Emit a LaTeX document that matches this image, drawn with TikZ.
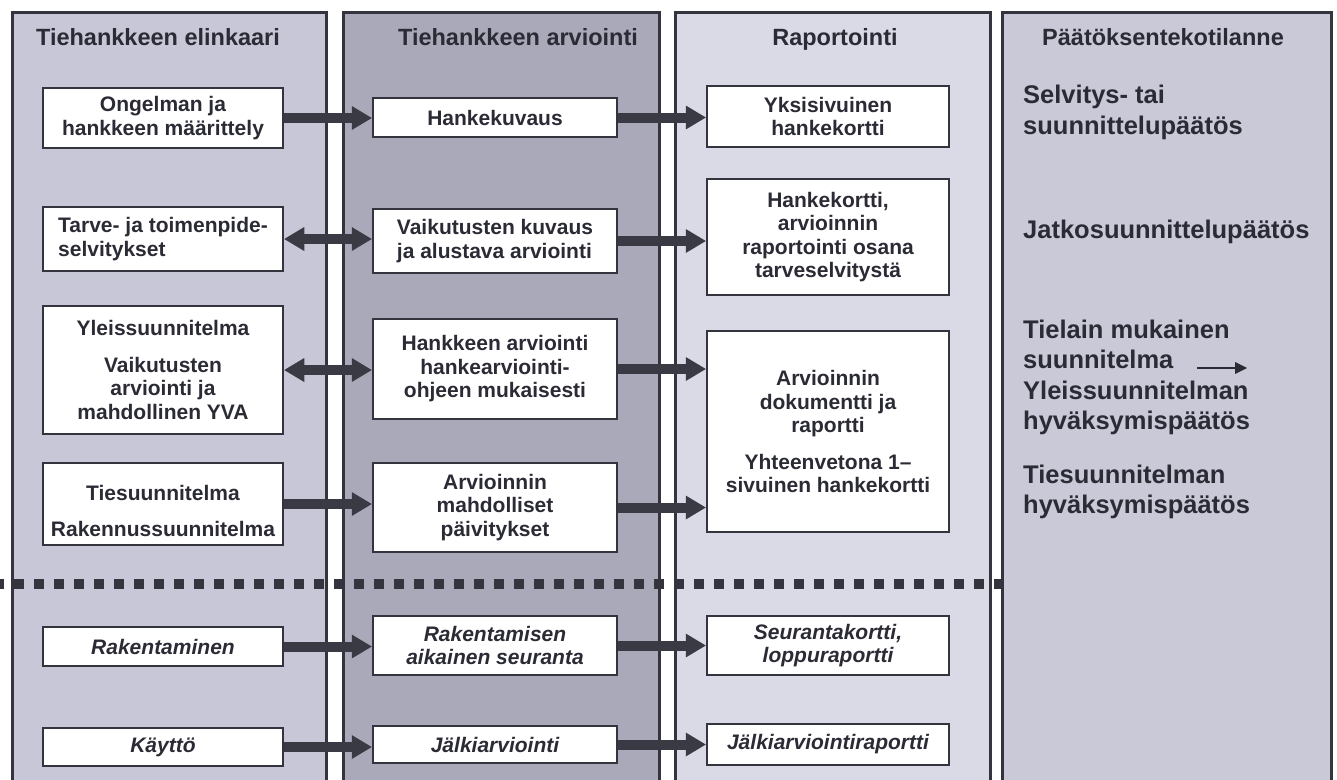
\documentclass[tikz,border=0pt]{standalone}
\usepackage{fontspec}
\setmainfont{Liberation Sans}
\usetikzlibrary{arrows.meta}

\definecolor{inkc}{HTML}{2B2B36}
\definecolor{framec}{HTML}{34343F}
\definecolor{arrowc}{HTML}{3A3A44}
\definecolor{laneA}{HTML}{C7C7D7}
\definecolor{laneB}{HTML}{A9A9B9}
\definecolor{laneC}{HTML}{DADAE6}
\definecolor{laneD}{HTML}{C9C9D7}

\begin{document}
\begin{tikzpicture}[x=1pt,y=-1pt,
  lane/.style={draw=framec, line width=3pt},
  box/.style={draw=framec, line width=2.5pt, fill=white, text=inkc, inner sep=0pt,
    align=center, font=\bfseries\fontsize{21}{23.5}\selectfont},
  ibox/.style={box, font=\bfseries\itshape\fontsize{21}{23.5}\selectfont},
  head/.style={text=inkc, inner sep=0pt, text height=17pt, text depth=0pt,
    font=\bfseries\fontsize{23.5}{28}\selectfont},
  side/.style={text=inkc, anchor=west, align=left, inner sep=0pt,
    font=\bfseries\fontsize{25.5}{30.2}\selectfont},
  flow/.style={draw=arrowc, line width=10pt,
    -{Triangle[length=20pt,width=24pt,line width=0pt]}},
  flowboth/.style={draw=arrowc, line width=10pt,
    {Triangle[length=20pt,width=24pt,line width=0pt]}-{Triangle[length=20pt,width=24pt,line width=0pt]}},
  thinflow/.style={draw=inkc, line width=2pt,
    -{Triangle[length=12pt,width=12pt,line width=0pt]}},
  divider/.style={draw=framec, line width=10pt, dash pattern=on 10pt off 10pt, dash phase=6pt},
]
\useasboundingbox (0,0) rectangle (1337,779);
\fill[white] (0,0) rectangle (1337,779);

% four lanes, open at the bottom
\fill[laneA] (12,12) rectangle (326,790);
\fill[laneB] (343,12) rectangle (659,790);
\fill[laneC] (675,12) rectangle (990,790);
\fill[laneD] (1002,12) rectangle (1331,790);
\draw[lane] (12,790) -- (12,12) -- (326,12) -- (326,790);
\draw[lane] (343,790) -- (343,12) -- (659,12) -- (659,790);
\draw[lane] (675,790) -- (675,12) -- (990,12) -- (990,790);
\draw[lane] (1002,790) -- (1002,12) -- (1331,12) -- (1331,790);

% lane headings
\node[head] (h1) at (158,37) {Tiehankkeen elinkaari};
\node[head] (h2) at (518,37) {Tiehankkeen arviointi};
\node[head] (h3) at (835,37) {Raportointi};
\node[head] (h4) at (1163,37) {Päätöksentekotilanne};

% planning phase
\node[box, minimum width=240pt, minimum height=60pt] (a1) at (163,118) {Ongelman ja\\hankkeen määrittely};
\node[box, minimum width=244pt, minimum height=39pt] (b1) at (495,117.5) {Hankekuvaus};
\node[box, minimum width=242pt, minimum height=61pt] (c1) at (828,116.5) {Yksisivuinen\\hankekortti};

\node[box, align=left, minimum width=240pt, minimum height=64pt] (a2) at (163,239) {Tarve- ja toimenpide-\\selvitykset};
\node[box, align=left, minimum width=244pt, minimum height=64pt] (b2) at (495,241) {Vaikutusten kuvaus\\ja alustava arviointi};
\node[box, minimum width=242pt, minimum height=116pt] (c2) at (828,237) {Hankekortti,\\arvioinnin\\raportointi osana\\tarveselvitystä};

\node[box, minimum width=240pt, minimum height=128pt] (a3) at (163,370) {Yleissuunnitelma\\[13pt]Vaikutusten\\arviointi ja\\mahdollinen YVA};
\node[box, minimum width=244pt, minimum height=100pt] (b3) at (495,369) {Hankkeen arviointi\\hankearviointi-\\ohjeen mukaisesti};
\node[box, minimum width=242pt, minimum height=201pt] (c3) at (828,431.5) {Arvioinnin\\dokumentti ja\\raportti\\[13pt]Yhteenvetona 1–\\sivuinen hankekortti};

\node[box, minimum width=240pt, minimum height=82pt] (a4) at (163,504) {\rule{0pt}{29pt}Tiesuunnitelma\\[12pt]Rakennussuunnitelma};
\node[box, minimum width=244pt, minimum height=89pt] (b4) at (495,507.5) {Arvioinnin\\mahdolliset\\päivitykset};

% construction and use
\node[ibox, minimum width=240pt, minimum height=39pt] (a5) at (163,646.5) {Rakentaminen};
\node[ibox, minimum width=244pt, minimum height=59pt] (b5) at (495,645.5) {Rakentamisen\\aikainen seuranta};
\node[ibox, minimum width=242pt, minimum height=59pt] (c5) at (828,645.5) {Seurantakortti,\\loppuraportti};

\node[ibox, minimum width=240pt, minimum height=38pt] (a6) at (163,747) {Käyttö};
\node[ibox, minimum width=244pt, minimum height=37pt] (b6) at (495,744.5) {Jälkiarviointi};
\node[ibox, minimum width=242pt, minimum height=41pt] (c6) at (828,744.5) {Jälkiarviointiraportti};

% phase divider
\draw[divider] (0,584) -- (1002,584);

% connectors
\draw[flow] (a1.east) -- (a1.east -| b1.west);
\draw[flow] (b1.east) -- (b1.east -| c1.west);
\draw[flowboth] (a2.east) -- (a2.east -| b2.west);
\draw[flow] (b2.east) -- (b2.east -| c2.west);
\draw[flowboth] (a3.east) -- (a3.east -| b3.west);
\draw[flow] (b3.east) -- (b3.east -| c3.west);
\draw[flow] (a4.east) -- (a4.east -| b4.west);
\draw[flow] (b4.east) -- (b4.east -| c3.west);
\draw[flow] (a5.east) -- (a5.east -| b5.west);
\draw[flow] (b5.east) -- (b5.east -| c5.west);
\draw[flow] (a6.east) -- (a6.east -| b6.west);
\draw[flow] (b6.east) -- (b6.east -| c6.west);

% decision points
\node[side] (d1) at (1023,112.5) {Selvitys- tai\\suunnittelupäätös};
\node[side] (d2) at (1023,232) {Jatkosuunnittelupäätös};
\node[side] (d3) at (1023,377.5) {Tielain mukainen\\suunnitelma\\Yleissuunnitelman\\hyväksymispäätös};
\node[side] (d4) at (1023,492) {Tiesuunnitelman\\hyväksymispäätös};
\coordinate (p0) at (1197,368);
\coordinate (p1) at (1247,368);
\draw[thinflow] (p0) -- (p1);
\end{tikzpicture}
\end{document}
